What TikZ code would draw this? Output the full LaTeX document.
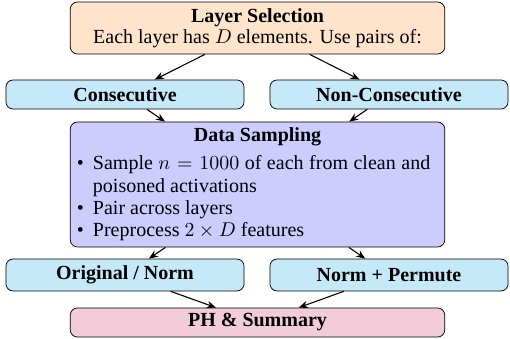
\documentclass[tikz,border=0pt]{standalone}
\usepackage{fontspec}
\setmainfont{Liberation Serif}
\usepackage{enumitem}
\usetikzlibrary{arrows.meta}

\definecolor{selfill}{RGB}{255,228,204}
\definecolor{pairfill}{RGB}{198,233,249}
\definecolor{sampfill}{RGB}{204,204,255}
\definecolor{sumfill}{RGB}{242,204,216}

\tikzset{
    stage/.style={draw=black, rounded corners=4pt, align=center, inner sep=2pt,
        font=\fontsize{11}{11.6}\selectfont},
    wide/.style={stage, minimum width=206pt},
    half/.style={stage, minimum width=131pt, minimum height=16pt, font=\fontsize{11}{11.6}\selectfont\bfseries},
    link/.style={-{Stealth[length=5pt,width=4pt]}, semithick}
}

\begin{document}
\begin{tikzpicture}[x=0.55pt, y=-0.55pt]
    \useasboundingbox (0,0) rectangle (510,339);

    \node[wide, fill=selfill, minimum height=28.6pt] (sel) at (257.5,28) {\textbf{Layer Selection}\\Each layer has $D$ elements. Use pairs of:};

    \node[half, fill=pairfill] (cons) at (125,94.5) {Consecutive};
    \node[half, fill=pairfill] (noncons) at (389,94.5) {Non-Consecutive};

    \node[wide, fill=sampfill, minimum height=68.75pt, text width=200pt, align=justify,
        font=\fontsize{11}{12.3}\selectfont] (samp) at (257.5,184.5) {%
        \hyphenpenalty=10000
        {\centering\textbf{Data Sampling}\par}
        \vspace{3pt}
        \begin{itemize}[leftmargin=9.5pt, rightmargin=5pt, labelsep=5pt, nosep]
            \item Sample $n = 1000$ of each from clean and poisoned activations
            \item Pair across layers
            \item Preprocess $2 \times D$ features
        \end{itemize}};

    \node[half, fill=pairfill, minimum height=17.6pt] (orig) at (125,275) {Original / Norm};
    \node[half, fill=pairfill, minimum height=17.6pt] (perm) at (389,275) {Norm + Permute};

    \node[wide, fill=sumfill, minimum height=16pt, font=\fontsize{11}{11.6}\selectfont\bfseries] (summ) at (257.5,322.5) {PH \& Summary};

    \draw[link] (sel) -- (cons);
    \draw[link] (sel) -- (noncons);
    \draw[link] (cons) -- (samp);
    \draw[link] (noncons) -- (samp);
    \draw[link] (samp) -- (orig);
    \draw[link] (samp) -- (perm);
    \draw[link] (orig) -- (summ);
    \draw[link] (perm) -- (summ);
\end{tikzpicture}
\end{document}
